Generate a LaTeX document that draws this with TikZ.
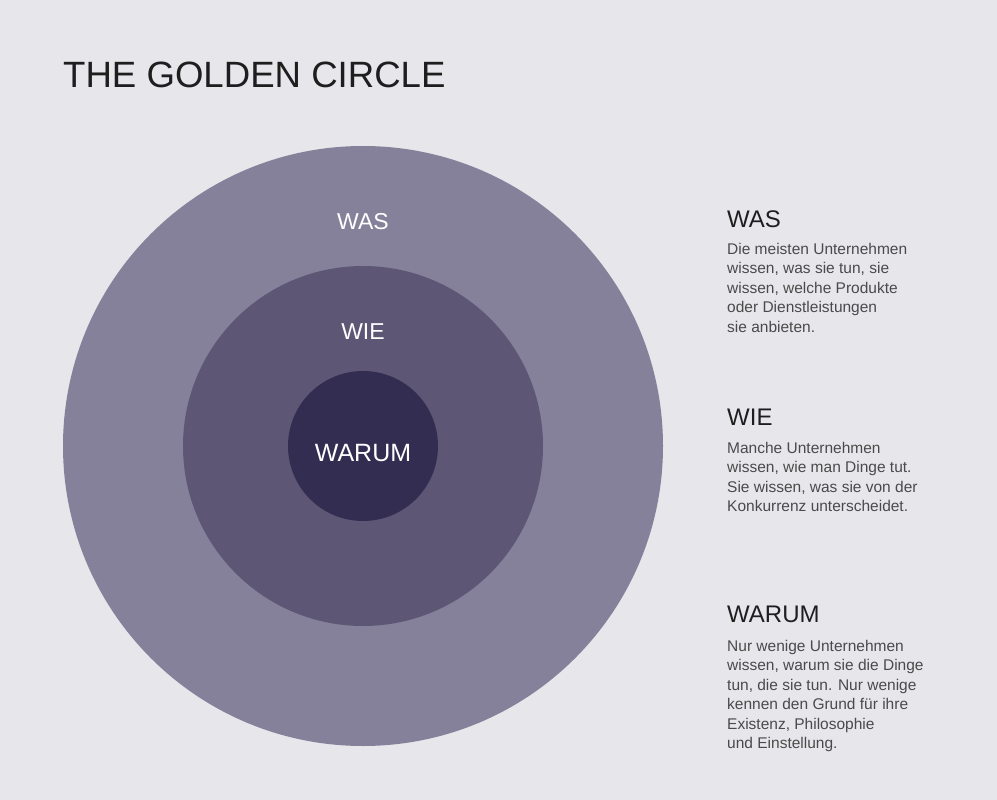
\documentclass[tikz,border=0pt]{standalone}
\usepackage{fontspec}
\setmainfont{Liberation Sans}
\definecolor{bg}{HTML}{E7E6EB}
\definecolor{outerc}{HTML}{86819A}
\definecolor{midc}{HTML}{5D5775}
\definecolor{innerc}{HTML}{342D52}
\definecolor{headc}{HTML}{1E1E1E}
\definecolor{bodyc}{HTML}{4A4A4A}
\begin{document}
\begin{tikzpicture}[x=1pt,y=-1pt,
  circlabel/.style={text=white,inner sep=0pt,anchor=base},
  headtext/.style={text=headc,inner sep=0pt,anchor=base west,font=\fontsize{24}{28}\selectfont},
  bodytext/.style={text=bodyc,inner sep=0pt,anchor=base west,align=left,font=\fontsize{15.5}{19.5}\selectfont}]
\fill[bg] (0,0) rectangle (997,800);
\useasboundingbox (0,0) rectangle (997,800);
\node[text=headc,inner sep=0pt,anchor=base west,font=\fontsize{36.6}{44}\selectfont] (title) at (63,88) {THE GOLDEN CIRCLE};
\fill[outerc] (363,446) circle[radius=300];
\fill[midc] (363,446) circle[radius=180];
\fill[innerc] (363,446) circle[radius=75];
\node[circlabel,font=\fontsize{23}{26}\selectfont] (cwas) at (363,229) {WAS};
\node[circlabel,font=\fontsize{23}{26}\selectfont] (cwie) at (363,339) {WIE};
\node[circlabel,font=\fontsize{25}{28}\selectfont] (cwarum) at (363,461) {WARUM};
\node[headtext] (hwas) at (727,227) {WAS};
\node[bodytext] (bwas) at (727,332) {Die meisten Unternehmen\\wissen, was sie tun, sie\\wissen, welche Produkte\\oder Dienstleistungen\\sie anbieten.};
\node[headtext] (hwie) at (727,425) {WIE};
\node[bodytext] (bwie) at (727,511.5) {Manche Unternehmen\\wissen, wie man Dinge tut.\\Sie wissen, was sie von der\\Konkurrenz unterscheidet.};
\node[headtext] (hwarum) at (727,622) {WARUM};
\node[bodytext] (bwarum) at (727,748.5) {Nur wenige Unternehmen\\wissen, warum sie die Dinge\\tun, die sie tun. Nur wenige\\kennen den Grund für ihre\\Existenz, Philosophie\\und Einstellung.};
\end{tikzpicture}
\end{document}
